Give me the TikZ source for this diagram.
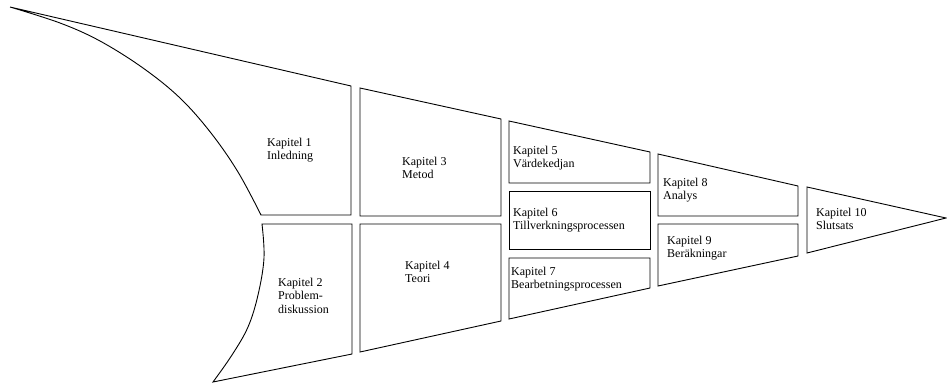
\documentclass[tikz,border=0pt]{standalone}
\usepackage{fontspec}
\setmainfont{Liberation Serif}
\begin{document}
\begin{tikzpicture}[x=1pt,y=-1pt,
  part/.style={draw=black,line width=0.9pt,line join=miter},
  label/.style={anchor=base west,inner sep=0pt,align=left,
    font=\fontsize{12}{13.5}\selectfont}]
\useasboundingbox (0,0) rectangle (947,383);

% funnel column 1: chapters 1 and 2
\draw[part] (10,7) -- (351,86) -- (351,215) -- (261,215)
  -- plot[smooth,tension=0.6] coordinates {(261,215) (238,172) (211,133) (180,98) (143,68) (100,41) (60,23) (10,7)};
\draw[part] (262,224) -- (352,224) -- (352,354) -- (213,382)
  -- plot[smooth,tension=0.6] coordinates {(213,382) (232,355) (248,327) (258,295) (264,258) (262,224)} -- cycle;

% column 2: chapters 3 and 4
\draw[part] (360,88) -- (501,119) -- (501,216) -- (360,216) -- cycle;
\draw[part] (360,224) -- (501,224) -- (501,321) -- (360,352) -- cycle;

% column 3: chapters 5, 6 and 7
\draw[part] (509,121) -- (650,152) -- (650,183) -- (509,183) -- cycle;
\draw[part] (509,191) -- (650,191) -- (650,249) -- (509,249) -- cycle;
\draw[part] (509,258) -- (650,258) -- (650,288) -- (509,319) -- cycle;

% column 4: chapters 8 and 9
\draw[part] (658,154) -- (798,186) -- (798,216) -- (658,216) -- cycle;
\draw[part] (658,224) -- (798,224) -- (798,256) -- (658,286) -- cycle;

% tip: chapter 10
\draw[part] (807,187) -- (946,218) -- (807,253) -- cycle;

% chapter labels (anchored at the baseline of their last line)
\node[label] (k1) at (267,159.5) {Kapitel 1\\Inledning};
\node[label] (k2) at (278,313) {Kapitel 2\\Problem-\\diskussion};
\node[label] (k3) at (402,178.5) {Kapitel 3\\Metod};
\node[label] (k4) at (405,282.5) {Kapitel 4\\Teori};
\node[label] (k5) at (513,167.5) {Kapitel 5\\Värdekedjan};
\node[label] (k6) at (513,229.5) {Kapitel 6\\Tillverkningsprocessen};
\node[label] (k7) at (511,288.5) {Kapitel 7\\Bearbetningsprocessen};
\node[label] (k8) at (663,199.5) {Kapitel 8\\Analys};
\node[label] (k9) at (667,257.5) {Kapitel 9\\Beräkningar};
\node[label] (k10) at (816,229.5) {Kapitel 10\\Slutsats};
\end{tikzpicture}
\end{document}
